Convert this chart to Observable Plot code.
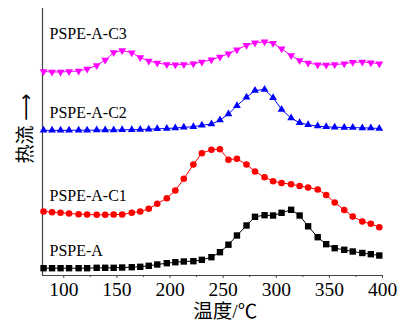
<!DOCTYPE html>
<html><head><meta charset="utf-8">
<script src="https://cdn.jsdelivr.net/npm/d3@7"></script>
<script src="https://cdn.jsdelivr.net/npm/@observablehq/plot@0.6"></script>
<style>html,body{margin:0;padding:0;background:#fff;} svg{display:block}</style>
</head><body><div id="chart"></div>
<script>
// Temperature (°C) of each sample point
const temps = [81, 89, 97, 105, 114, 122, 131, 139, 147, 155, 164, 172, 180, 188, 197, 205, 213, 222, 230, 239, 247, 255, 263, 272, 280, 289, 297, 305, 314, 322, 330, 339, 347, 355, 364, 372, 381, 389, 397];
// Heat flow (arbitrary units, stacked curves)
const pspeA = [7.3, 7.3, 7.3, 7.3, 7.3, 7.3, 7.7, 7.7, 7.7, 8, 8.3, 8.7, 9.7, 11, 12.3, 13.3, 14, 14.3, 15.7, 18.3, 23.3, 30.8, 40, 50, 58.7, 60.3, 60, 62.7, 65.7, 60, 49.2, 38.3, 31.3, 27.3, 25.7, 24, 22.5, 21.3, 20];
const pspeAC1 = [64, 63.3, 62.7, 62, 61.3, 61, 60.7, 60.7, 61, 61, 62.7, 64, 66.7, 71.7, 77.3, 85, 96.7, 111, 122.3, 125.8, 126.3, 115.8, 116.7, 111, 104, 98.3, 94.3, 92.5, 91.3, 89.5, 88, 86, 80.5, 73, 65.5, 59, 54, 51.7, 48.3];
const pspeAC2 = [145.2, 145.2, 145.2, 145.2, 145.3, 145.3, 145.4, 145.5, 145.5, 145.7, 145.8, 146, 146.3, 146.7, 147, 147.5, 148.2, 148.8, 150.2, 151.5, 155.4, 161.5, 169.8, 178.2, 185, 186, 177.8, 166, 157.4, 152.8, 150.7, 149.4, 148.7, 148.3, 148, 147.9, 147.6, 147.5, 147];
const pspeAC3 = [204, 203.5, 203.5, 204, 204.5, 206.5, 210, 215.5, 223, 225, 222.7, 218, 214.5, 212.5, 211, 210.8, 211, 211.7, 213.5, 215.8, 218.5, 221.8, 225.8, 230.3, 232.7, 233.7, 232.3, 226.7, 220, 215, 212.5, 210.8, 210.5, 211, 211.7, 213.2, 213.5, 212.8, 211.8];

const seriesNames = ["PSPE-A", "PSPE-A-C1", "PSPE-A-C2", "PSPE-A-C3"];
const seriesValues = [pspeA, pspeAC1, pspeAC2, pspeAC3];
const seriesColors = ["#000000", "#ff0000", "#0000ff", "#ff00ff"];
const labelHeights = [20, 75, 158, 237];
const xTicks = [100, 150, 200, 250, 300, 350, 400];
const xMinorTicks = [125, 175, 225, 275, 325, 375];
const xTitle = "温度/℃";
const yTitle = "热流 ⟶";

const triangleDown = {
  draw(context, size) {
    const y = -Math.sqrt(size / (Math.sqrt(3) * 3));
    context.moveTo(0, -y * 2);
    context.lineTo(-Math.sqrt(3) * y, y);
    context.lineTo(Math.sqrt(3) * y, y);
    context.closePath();
  }
};
const symbols = ["square", "circle", "triangle", triangleDown];
const radii = [3.6, 3.3, 2.9, 2.9];

const series = seriesNames.map((name, k) =>
  temps.map((t, i) => ({t, v: seriesValues[k][i], s: name})));
const labels = seriesNames.map((name, k) => ({name, y: labelHeights[k]}));

const axisColor = "#444";
const serif = "'Liberation Serif', 'DejaVu Serif', serif";
const cjk = "'Liberation Serif', 'Noto Sans CJK SC', 'DejaVu Sans', sans-serif";

const marks = [
  Plot.ruleX([80], {stroke: axisColor, strokeWidth: 1.2}),
  Plot.ruleY([0], {stroke: axisColor, strokeWidth: 1.2}),
  Plot.axisX(xTicks, {tickSize: 3, tickPadding: 3.5, fontSize: 19.5, fontFamily: serif, stroke: axisColor, fill: "#000", label: null}),
  Plot.axisX(xMinorTicks, {tickSize: 2, stroke: axisColor, fill: "none", label: null}),
];
series.forEach((d, k) => {
  marks.push(Plot.line(d, {x: "t", y: "v", stroke: seriesColors[k], strokeWidth: 1}));
  marks.push(Plot.dot(d, {x: "t", y: "v", fill: seriesColors[k], stroke: "none", symbol: symbols[k], r: radii[k]}));
});
marks.push(Plot.text(labels, {x: 86.6, y: "y", text: "name", textAnchor: "start", lineAnchor: "bottom", fontSize: 16, fontFamily: serif, fill: "#000"}));
marks.push(Plot.text([xTitle], {x: 252, y: -42.5, text: d => d, lineAnchor: "bottom", fontSize: 19.5, fontFamily: cjk, fill: "#000"}));
marks.push(Plot.text([yTitle], {x: 64, y: 147, text: d => d, rotate: -90, lineAnchor: "middle", fontSize: 19, fontFamily: cjk, fill: "#000"}));

const chart = Plot.plot({
  width: 402,
  height: 322,
  marginTop: 8,
  marginBottom: 47,
  marginLeft: 42,
  marginRight: 20,
  x: {domain: [80, 400], axis: null},
  y: {domain: [0, 267], axis: null},
  style: {background: "#fff", overflow: "visible", fontFamily: serif},
  marks
});
document.getElementById("chart").appendChild(chart);
</script>
</body></html>
